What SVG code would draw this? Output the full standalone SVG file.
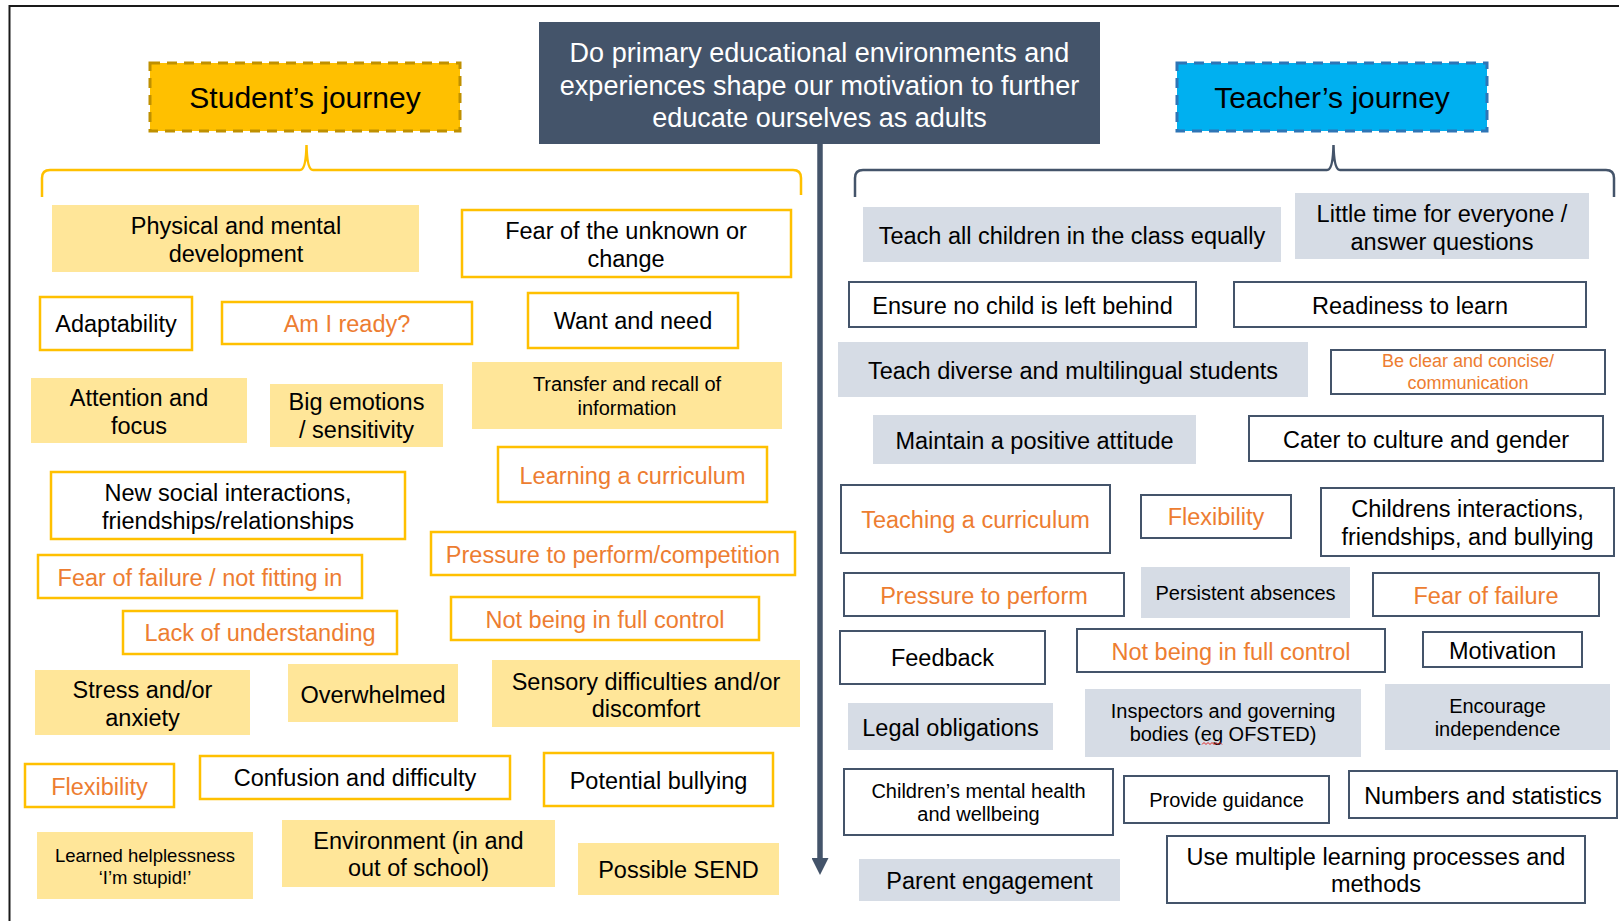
<svg xmlns="http://www.w3.org/2000/svg" width="1619" height="921" viewBox="0 0 1619 921">
<style>
text{font-family:"Liberation Sans",Arial,sans-serif;text-anchor:middle;dominant-baseline:central;fill:#000;font-size:23.5px}
.o{fill:#ED7D31}
.s20{font-size:20px}
.s18{font-size:18.5px}
.gb{fill:#fff;stroke:#FFC000;stroke-width:2.5}
.yf{fill:#FFE699}
.db{fill:#fff;stroke:#44546A;stroke-width:2}
.gf{fill:#D6DCE5}
</style>
<defs>
<marker id="ah" viewBox="0 0 17 17" refX="0" refY="8.5" markerWidth="17" markerHeight="17" markerUnits="userSpaceOnUse" orient="auto">
<path d="M0 0 L17 8.5 L0 17 Z" fill="#44546A"/>
</marker>
</defs>
<rect x="0" y="0" width="1619" height="921" fill="#fff"/>
<rect x="9.5" y="6" width="1640" height="940" fill="none" stroke="#1a1a1a" stroke-width="2"/>

<g id="title">
<rect x="539" y="22" width="561" height="122" fill="#44546A"/>
<text x="819.5" y="53" style="fill:#fff;font-size:27px">Do primary educational environments and</text>
<text x="819.5" y="85.5" style="fill:#fff;font-size:27px">experiences shape our motivation to further</text>
<text x="819.5" y="118" style="fill:#fff;font-size:27px">educate ourselves as adults</text>
</g>

<g id="students-journey">
<rect x="150" y="63" width="310" height="68" fill="#FFC000" stroke="#BF9000" stroke-width="3" stroke-dasharray="10 7"/>
<text x="305" y="97" style="font-size:30px">Student’s journey</text>
</g>

<g id="teachers-journey">
<rect x="1177" y="63" width="310" height="68" fill="#00B0F0" stroke="#2E75B6" stroke-width="3" stroke-dasharray="10 7"/>
<text x="1332" y="97" style="font-size:30px">Teacher’s journey</text>
</g>

<g id="connectors" fill="none">
<path d="M42 197 L42 178 Q42 170 50 170 L300 170 Q306 170 306.5 145 Q307 170 313 170 L793 170 Q801 170 801 178 L801 195" stroke="#FFC000" stroke-width="2.5"/>
<path d="M855 197 L855 178 Q855 170 863 170 L1327 170 Q1333 170 1333.5 145 Q1334 170 1340 170 L1606 170 Q1614 170 1614 178 L1614 197" stroke="#44546A" stroke-width="2.5"/>
<path d="M820 144 L820 858" stroke="#44546A" stroke-width="5.5" marker-end="url(#ah)"/>
</g>

<!-- Student side -->
<g id="s-physical"><rect class="yf" x="52" y="205" width="367" height="67"/><text x="236" y="226">Physical and mental</text><text x="236" y="254">development</text></g>
<g id="s-fear-unknown"><rect class="gb" x="462" y="210" width="329" height="67"/><text x="626" y="231">Fear of the unknown or</text><text x="626" y="259">change</text></g>
<g id="s-adaptability"><rect class="gb" x="40" y="297" width="152" height="53"/><text x="116" y="324">Adaptability</text></g>
<g id="s-ready"><rect class="gb" x="222" y="302" width="250" height="42"/><text class="o" x="347" y="324">Am I ready?</text></g>
<g id="s-want"><rect class="gb" x="528" y="293" width="210" height="55"/><text x="633" y="321">Want and need</text></g>
<g id="s-attention"><rect class="yf" x="31" y="378" width="216" height="65"/><text x="139" y="397.5">Attention and</text><text x="139" y="425.5">focus</text></g>
<g id="s-emotions"><rect class="yf" x="270" y="384" width="173" height="63"/><text x="356.5" y="401.5">Big emotions</text><text x="356.5" y="429.5">/ sensitivity</text></g>
<g id="s-transfer"><rect class="yf" x="472" y="362" width="310" height="67"/><text class="s20" x="627" y="384">Transfer and recall of</text><text class="s20" x="627" y="408">information</text></g>
<g id="s-learning"><rect class="gb" x="498" y="447" width="269" height="55"/><text class="o" x="632.5" y="475.5">Learning a curriculum</text></g>
<g id="s-social"><rect class="gb" x="51" y="472" width="354" height="67"/><text x="228" y="492.5">New social interactions,</text><text x="228" y="520.5">friendships/relationships</text></g>
<g id="s-pressure"><rect class="gb" x="431" y="532" width="364" height="43"/><text class="o" x="613" y="555">Pressure to perform/competition</text></g>
<g id="s-fear-failure"><rect class="gb" x="38" y="555" width="324" height="43"/><text class="o" x="200" y="577.5">Fear of failure / not fitting in</text></g>
<g id="s-lack"><rect class="gb" x="123" y="611" width="274" height="43"/><text class="o" x="260" y="633">Lack of understanding</text></g>
<g id="s-control"><rect class="gb" x="451" y="597" width="308" height="43"/><text class="o" x="605" y="619.5">Not being in full control</text></g>
<g id="s-stress"><rect class="yf" x="35" y="670" width="215" height="65"/><text x="142.5" y="689.5">Stress and/or</text><text x="142.5" y="717.5">anxiety</text></g>
<g id="s-overwhelmed"><rect class="yf" x="288" y="664" width="170" height="58"/><text x="373" y="694.5">Overwhelmed</text></g>
<g id="s-sensory"><rect class="yf" x="492" y="660" width="308" height="67"/><text x="646" y="681.5">Sensory difficulties and/or</text><text x="646" y="708.5">discomfort</text></g>
<g id="s-flexibility"><rect class="gb" x="25" y="764" width="149" height="43"/><text class="o" x="99.5" y="786.5">Flexibility</text></g>
<g id="s-confusion"><rect class="gb" x="200" y="756" width="310" height="43"/><text x="355" y="778">Confusion and difficulty</text></g>
<g id="s-bullying"><rect class="gb" x="544" y="753" width="229" height="53"/><text x="658.5" y="780.5">Potential bullying</text></g>
<g id="s-helplessness"><rect class="yf" x="37" y="832" width="216" height="67"/><text class="s18" x="145" y="855">Learned helplessness</text><text class="s18" x="145" y="877.5">‘I’m stupid!’</text></g>
<g id="s-environment"><rect class="yf" x="282" y="820" width="273" height="67"/><text x="418.5" y="840.5">Environment (in and</text><text x="418.5" y="867.5">out of school)</text></g>
<g id="s-send"><rect class="yf" x="578" y="843" width="201" height="52"/><text x="678.5" y="870">Possible SEND</text></g>

<!-- Teacher side -->
<g id="t-equally"><rect class="gf" x="863" y="207" width="418" height="55"/><text x="1072" y="236">Teach all children in the class equally</text></g>
<g id="t-little-time"><rect class="gf" x="1295" y="193" width="294" height="66"/><text x="1442" y="214">Little time for everyone /</text><text x="1442" y="241.5">answer questions</text></g>
<g id="t-ensure"><rect class="db" x="849" y="282" width="347" height="45"/><text x="1022.5" y="305.5">Ensure no child is left behind</text></g>
<g id="t-readiness"><rect class="db" x="1234" y="282" width="352" height="45"/><text x="1410" y="305.5">Readiness to learn</text></g>
<g id="t-diverse"><rect class="gf" x="838" y="342" width="470" height="55"/><text x="1073" y="370.5">Teach diverse and multilingual students</text></g>
<g id="t-clear"><rect class="db" x="1331" y="350" width="274" height="44"/><text class="o" x="1468" y="360.5" style="font-size:18px">Be clear and concise/</text><text class="o" x="1468" y="383" style="font-size:18px">communication</text></g>
<g id="t-positive"><rect class="gf" x="873" y="415" width="323" height="49"/><text x="1034.5" y="441">Maintain a positive attitude</text></g>
<g id="t-culture"><rect class="db" x="1249" y="416" width="354" height="45"/><text x="1426" y="440">Cater to culture and gender</text></g>
<g id="t-curriculum"><rect class="db" x="841" y="485" width="269" height="68"/><text class="o" x="975.5" y="519.5">Teaching a curriculum</text></g>
<g id="t-flexibility"><rect class="db" x="1141" y="495" width="150" height="43"/><text class="o" x="1216" y="517">Flexibility</text></g>
<g id="t-interactions"><rect class="db" x="1321" y="488" width="293" height="68"/><text x="1467.5" y="509">Childrens interactions,</text><text x="1467.5" y="537">friendships, and bullying</text></g>
<g id="t-pressure"><rect class="db" x="844" y="573" width="280" height="43"/><text class="o" x="984" y="595.5">Pressure to perform</text></g>
<g id="t-absences"><rect class="gf" x="1141" y="567" width="209" height="51"/><text class="s20" x="1245.5" y="592.5">Persistent absences</text></g>
<g id="t-fear"><rect class="db" x="1373" y="573" width="226" height="43"/><text class="o" x="1486" y="595.5">Fear of failure</text></g>
<g id="t-feedback"><rect class="db" x="840" y="631" width="205" height="53"/><text x="942.5" y="658">Feedback</text></g>
<g id="t-control"><rect class="db" x="1077" y="629" width="308" height="43"/><text class="o" x="1231" y="652">Not being in full control</text></g>
<g id="t-motivation"><rect class="db" x="1423" y="632" width="159" height="35"/><text x="1502.5" y="650.5">Motivation</text></g>
<g id="t-legal"><rect class="gf" x="848" y="703" width="205" height="47"/><text x="950.5" y="728">Legal obligations</text></g>
<g id="t-inspectors"><rect class="gf" x="1085" y="689" width="276" height="68"/><text class="s20" x="1223" y="710.5">Inspectors and governing</text><text class="s20" x="1223" y="734">bodies (eg OFSTED)</text><path d="M1202 744.5 l2 -2 l2 2 l2 -2 l2 2 l2 -2 l2 2 l2 -2 l2 2 l2 -2 l2 2" fill="none" stroke="#E02020" stroke-width="1"/></g>
<g id="t-independence"><rect class="gf" x="1385" y="684" width="225" height="66"/><text class="s20" x="1497.5" y="706">Encourage</text><text class="s20" x="1497.5" y="729">independence</text></g>
<g id="t-mental"><rect class="db" x="844" y="769" width="269" height="66"/><text class="s20" x="978.5" y="790.5">Children’s mental health</text><text class="s20" x="978.5" y="814">and wellbeing</text></g>
<g id="t-guidance"><rect class="db" x="1124" y="776" width="205" height="47"/><text class="s20" x="1226.5" y="800">Provide guidance</text></g>
<g id="t-numbers"><rect class="db" x="1349" y="771" width="268" height="47"/><text x="1483" y="796">Numbers and statistics</text></g>
<g id="t-parent"><rect class="gf" x="859" y="859" width="261" height="42"/><text x="989.5" y="881">Parent engagement</text></g>
<g id="t-multiple"><rect class="db" x="1167" y="836" width="418" height="67"/><text x="1376" y="857">Use multiple learning processes and</text><text x="1376" y="884">methods</text></g>
</svg>
